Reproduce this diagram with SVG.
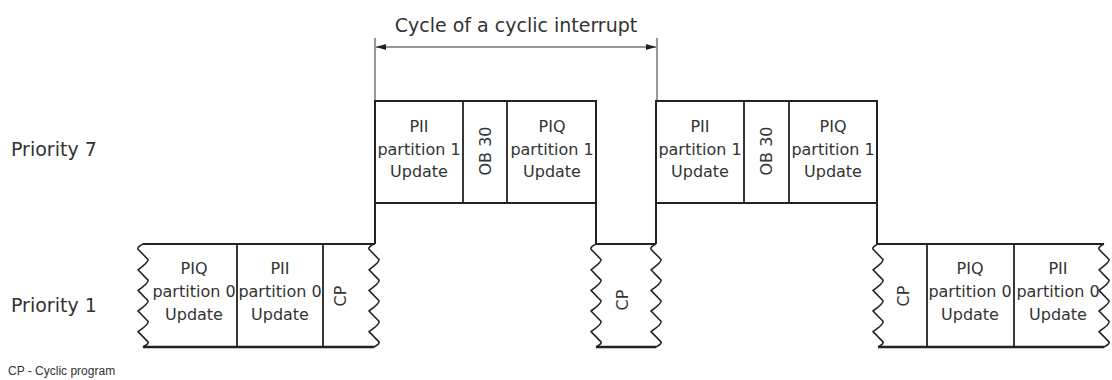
<svg xmlns="http://www.w3.org/2000/svg" width="1112" height="380" viewBox="0 0 1112 380">
<style>
.ln{stroke:#222;stroke-width:2;fill:none}
.bt{stroke:#222;stroke-width:2.6;fill:none}
.dv{stroke:#222;stroke-width:1.8;fill:none}
.wv{stroke:#222;stroke-width:1.6;fill:none;stroke-linejoin:round}
.dim{stroke:#333;stroke-width:1;fill:none}
.t{font-family:"DejaVu Sans",sans-serif;font-size:16px;fill:#333;text-anchor:middle}
.lbl{font-family:"DejaVu Sans",sans-serif;font-size:19px;fill:#333}
.small{font-family:"Liberation Sans",Arial,sans-serif;font-size:12px;fill:#333}
</style>
<defs>
<path id="wave" d="M0,0 Q-6,3 -5,5.2 L5,15.5 Q6,18 -5,25.8 L5,36.1 Q6,38.5 -5,46.4 L5,56.7 Q6,59 -5,67 L5,77.3 Q6,80 -5,87.6 L5,97.9 Q6,100 0,103"/>
<marker id="arr" viewBox="0 0 10 8" refX="10" refY="4" markerWidth="10" markerHeight="8" markerUnits="userSpaceOnUse" orient="auto-start-reverse">
<path d="M0,1 L10,4 L0,7 Z" fill="#222"/>
</marker>
</defs>
<rect width="1112" height="380" fill="#fff"/>

<g id="labels">
<text class="lbl" x="11" y="156">Priority 7</text>
<text class="lbl" x="11" y="312">Priority 1</text>
<text class="small" x="8" y="375">CP - Cyclic program</text>
</g>

<g id="connectors">
<line class="dim" x1="375" y1="38" x2="375" y2="101"/>
<line class="dim" x1="657" y1="38" x2="657" y2="101"/>
<line class="dim" x1="376" y1="47" x2="656" y2="47" marker-start="url(#arr)" marker-end="url(#arr)"/>
<text class="lbl" x="516" y="32" text-anchor="middle">Cycle of a cyclic interrupt</text>
<line class="ln" x1="375" y1="203" x2="375" y2="244"/>
<line class="ln" x1="596" y1="203" x2="596" y2="244"/>
<line class="ln" x1="656" y1="203" x2="656" y2="244"/>
<line class="ln" x1="877" y1="203" x2="877" y2="244"/>
</g>

<g id="low-left">
<line class="ln" x1="143" y1="244" x2="375" y2="244"/>
<line class="bt" x1="143" y1="347" x2="374" y2="347"/>
<line class="dv" x1="237" y1="244" x2="237" y2="347"/>
<line class="dv" x1="323" y1="244" x2="323" y2="347"/>
<use href="#wave" class="wv" x="143" y="244"/>
<use href="#wave" class="wv" x="374" y="244"/>
<text class="t" x="194" y="274">PIQ</text>
<text class="t" x="194" y="297">partition 0</text>
<text class="t" x="194" y="320">Update</text>
<text class="t" x="280" y="274">PII</text>
<text class="t" x="280" y="297">partition 0</text>
<text class="t" x="280" y="320">Update</text>
<text class="t" transform="translate(346,296) rotate(-90)">CP</text>
</g>

<g id="high-1">
<rect class="ln" x="375" y="101" width="221" height="102"/>
<line class="dv" x1="463" y1="101" x2="463" y2="203"/>
<line class="dv" x1="507" y1="101" x2="507" y2="203"/>
<text class="t" x="419" y="132">PII</text>
<text class="t" x="419" y="155">partition 1</text>
<text class="t" x="419" y="177">Update</text>
<text class="t" transform="translate(491,151) rotate(-90)">OB 30</text>
<text class="t" x="552" y="132">PIQ</text>
<text class="t" x="552" y="155">partition 1</text>
<text class="t" x="552" y="177">Update</text>
</g>

<g id="low-mid">
<line class="ln" x1="596" y1="244" x2="656" y2="244"/>
<line class="bt" x1="596" y1="347" x2="656" y2="347"/>
<use href="#wave" class="wv" x="596" y="244"/>
<use href="#wave" class="wv" x="656" y="244"/>
<text class="t" transform="translate(628,300) rotate(-90)">CP</text>
</g>

<g id="high-2">
<rect class="ln" x="656" y="101" width="221" height="102"/>
<line class="dv" x1="744" y1="101" x2="744" y2="203"/>
<line class="dv" x1="789" y1="101" x2="789" y2="203"/>
<text class="t" x="700" y="132">PII</text>
<text class="t" x="700" y="155">partition 1</text>
<text class="t" x="700" y="177">Update</text>
<text class="t" transform="translate(772,151) rotate(-90)">OB 30</text>
<text class="t" x="833" y="132">PIQ</text>
<text class="t" x="833" y="155">partition 1</text>
<text class="t" x="833" y="177">Update</text>
</g>

<g id="low-right">
<line class="ln" x1="877" y1="244" x2="1104" y2="244"/>
<line class="bt" x1="878" y1="347" x2="1104" y2="347"/>
<line class="dv" x1="927" y1="244" x2="927" y2="347"/>
<line class="dv" x1="1014" y1="244" x2="1014" y2="347"/>
<use href="#wave" class="wv" x="878" y="244"/>
<use href="#wave" class="wv" x="1104" y="244"/>
<text class="t" transform="translate(909,296) rotate(-90)">CP</text>
<text class="t" x="970" y="274">PIQ</text>
<text class="t" x="970" y="297">partition 0</text>
<text class="t" x="970" y="320">Update</text>
<text class="t" x="1058" y="274">PII</text>
<text class="t" x="1058" y="297">partition 0</text>
<text class="t" x="1058" y="320">Update</text>
</g>
</svg>
